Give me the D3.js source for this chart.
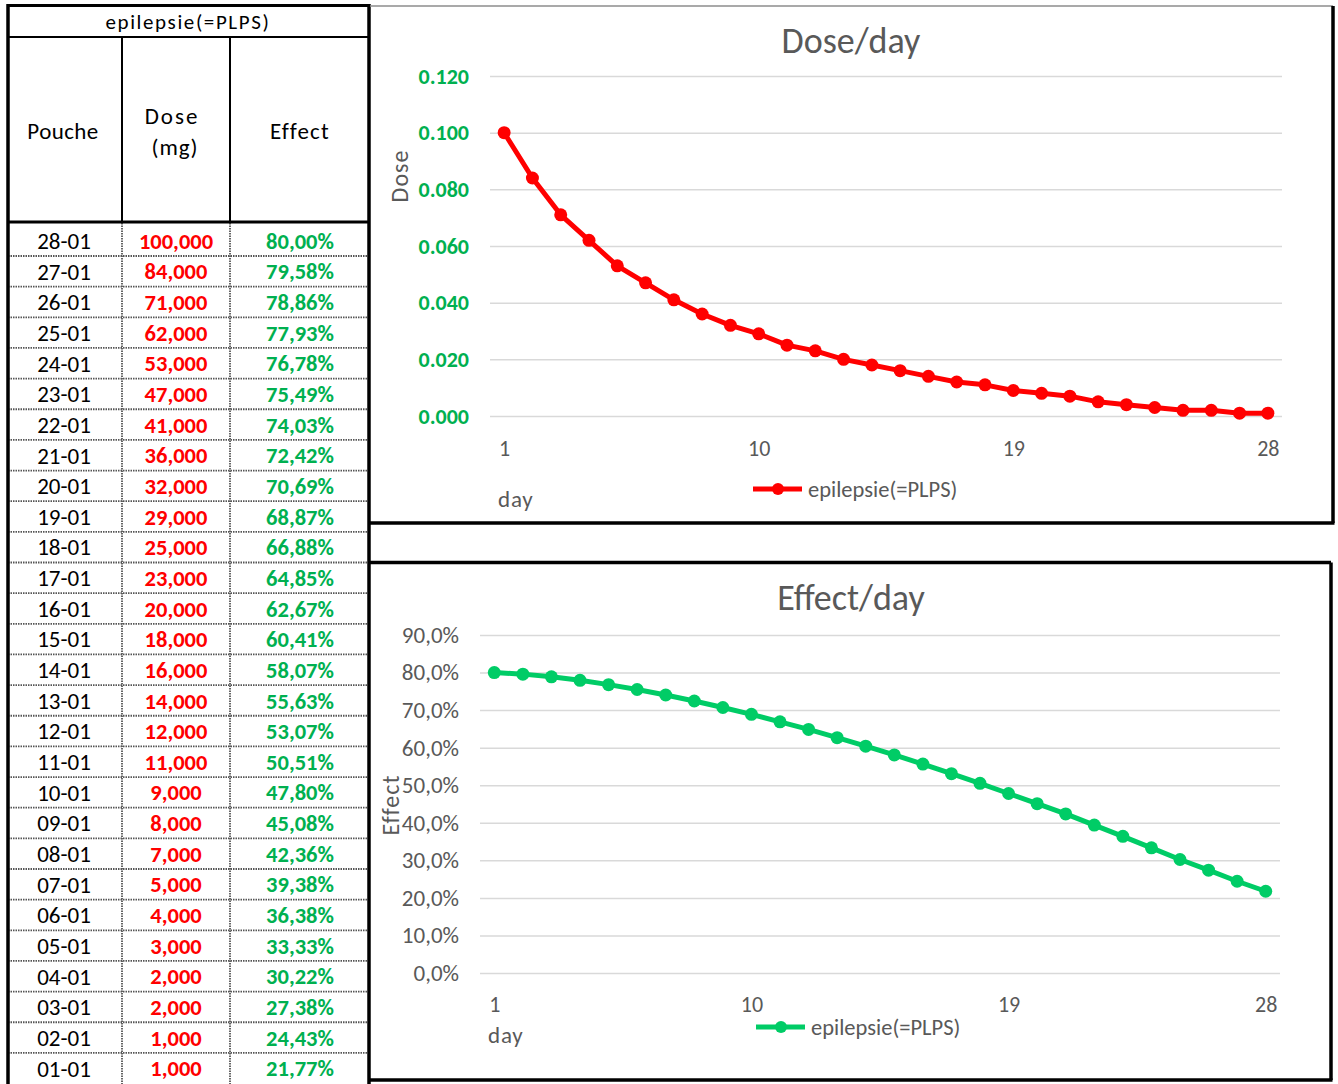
<!DOCTYPE html>
<html>
<head>
<meta charset="utf-8">
<script src="https://cdn.jsdelivr.net/npm/d3@7"></script>
<style>
  body { margin: 0; background: #fff; }
  svg { display: block; font-family: Carlito, Lato, "Open Sans", sans-serif; }
</style>
</head>
<body>
<script>
var width = 1338,
    height = 1084;

// data, day 1 .. day 28
var days = d3.range(1, 29);
var pouche = ['28-01','27-01','26-01','25-01','24-01','23-01','22-01','21-01','20-01','19-01',
              '18-01','17-01','16-01','15-01','14-01','13-01','12-01','11-01','10-01','09-01',
              '08-01','07-01','06-01','05-01','04-01','03-01','02-01','01-01'];
var doseMg = [100000, 84000, 71000, 62000, 53000, 47000, 41000, 36000, 32000, 29000,
              25000, 23000, 20000, 18000, 16000, 14000, 12000, 11000, 9000, 8000,
              7000, 5000, 4000, 3000, 2000, 2000, 1000, 1000];
var effect = [80.00, 79.58, 78.86, 77.93, 76.78, 75.49, 74.03, 72.42, 70.69, 68.87,
              66.88, 64.85, 62.67, 60.41, 58.07, 55.63, 53.07, 50.51, 47.80, 45.08,
              42.36, 39.38, 36.38, 33.33, 30.22, 27.38, 24.43, 21.77];
var doseTicks = [0, 0.02, 0.04, 0.06, 0.08, 0.1, 0.12];
var effectTicks = [0, 0.1, 0.2, 0.3, 0.4, 0.5, 0.6, 0.7, 0.8, 0.9];
var dayTicks = [1, 10, 19, 28];
var seriesName = 'epilepsie(=PLPS)';

var svg = d3.select('body')
    .append('svg')
    .attr('width', width)
    .attr('height', height);

// ---------- table ----------
var tbl = svg.append('g');
var rowTop = 225.35, rowH = 30.65;
var colX = [8, 122, 230, 369];
var colMid = [64, 176, 300];

var fmtDose = function(v) { return d3.format(',.3f')(v / 1000).replace('.', ';').replace(/,/g, '.').replace(';', ','); };
var fmtPct = function(v) { return v.toFixed(2).replace('.', ',') + '%'; };

// dotted grid of the body
for (var i = 1; i < 28; i++) {
  tbl.append('line')
    .attr('x1', colX[0]).attr('x2', colX[3])
    .attr('y1', rowTop + i * rowH).attr('y2', rowTop + i * rowH)
    .attr('stroke', '#555').attr('stroke-width', 1.8).attr('stroke-dasharray', '1.5,1');
}
[1, 2].forEach(function(c) {
  tbl.append('line')
    .attr('x1', colX[c]).attr('x2', colX[c])
    .attr('y1', 223).attr('y2', height)
    .attr('stroke', '#555').attr('stroke-width', 1.8).attr('stroke-dasharray', '1.5,1');
  tbl.append('line')
    .attr('x1', colX[c]).attr('x2', colX[c])
    .attr('y1', 37).attr('y2', 222)
    .attr('stroke', '#000').attr('stroke-width', 2);
});
tbl.append('line').attr('x1', colX[0]).attr('x2', colX[3]).attr('y1', 37).attr('y2', 37)
  .attr('stroke', '#000').attr('stroke-width', 2);
tbl.append('line').attr('x1', colX[0]).attr('x2', colX[3]).attr('y1', 222).attr('y2', 222)
  .attr('stroke', '#000').attr('stroke-width', 3);
tbl.append('line').attr('x1', colX[0]).attr('x2', colX[3]).attr('y1', 5.5).attr('y2', 5.5)
  .attr('stroke', '#000').attr('stroke-width', 3);
tbl.append('line').attr('x1', colX[0]).attr('x2', colX[0]).attr('y1', 4).attr('y2', height)
  .attr('stroke', '#000').attr('stroke-width', 3.5);
tbl.append('line').attr('x1', colX[3]).attr('x2', colX[3]).attr('y1', 4).attr('y2', height)
  .attr('stroke', '#000').attr('stroke-width', 3.5);

tbl.append('text').attr('x', 188).attr('y', 22).attr('dy', '0.35em')
  .attr('text-anchor', 'middle').attr('font-size', 21).attr('letter-spacing', 1.6)
  .text(seriesName);
tbl.append('text').attr('x', 63).attr('y', 131).attr('dy', '0.35em')
  .attr('text-anchor', 'middle').attr('font-size', 23).attr('letter-spacing', 0.4).text('Pouche');
tbl.append('text').attr('x', 172).attr('y', 116).attr('dy', '0.35em')
  .attr('text-anchor', 'middle').attr('font-size', 23).attr('letter-spacing', 2).text('Dose');
tbl.append('text').attr('x', 175).attr('y', 147).attr('dy', '0.35em')
  .attr('text-anchor', 'middle').attr('font-size', 23).attr('letter-spacing', 1).text('(mg)');
tbl.append('text').attr('x', 300).attr('y', 131).attr('dy', '0.35em')
  .attr('text-anchor', 'middle').attr('font-size', 23).attr('letter-spacing', 1.2).text('Effect');

var rows = tbl.selectAll('.row')
  .data(days)
  .enter().append('g')
  .attr('class', 'row')
  .attr('transform', function(d, i) { return 'translate(0,' + (rowTop + i * rowH + rowH / 2) + ')'; });

rows.append('text').attr('x', colMid[0]).attr('dy', '0.36em')
  .attr('text-anchor', 'middle').attr('font-size', 23).attr('fill', '#000')
  .text(function(d, i) { return pouche[i]; });
rows.append('text').attr('x', colMid[1]).attr('dy', '0.36em')
  .attr('text-anchor', 'middle').attr('font-size', 22.5).attr('font-weight', 'bold').attr('fill', '#ff0000')
  .text(function(d, i) { return fmtDose(doseMg[i]); });
rows.append('text').attr('x', colMid[2]).attr('dy', '0.36em')
  .attr('text-anchor', 'middle').attr('font-size', 22.5).attr('font-weight', 'bold').attr('fill', '#00b050')
  .text(function(d, i) { return fmtPct(effect[i]); });

// ---------- chart helper ----------
function drawChart(o) {
  var g = svg.append('g');

  // frame
  g.append('line').attr('x1', 370).attr('x2', o.right).attr('y1', o.top).attr('y2', o.top)
    .attr('stroke', o.topColor).attr('stroke-width', o.topWidth);
  g.append('line').attr('x1', o.right).attr('x2', o.right).attr('y1', o.top).attr('y2', o.bottom)
    .attr('stroke', '#000').attr('stroke-width', 3.5);
  g.append('line').attr('x1', 370).attr('x2', o.right + 1.5).attr('y1', o.bottom).attr('y2', o.bottom)
    .attr('stroke', '#000').attr('stroke-width', 3.5);

  var x = d3.scalePoint().domain(days).range([o.x0, o.x1]).padding(0.5);
  var y = d3.scaleLinear().domain(o.yDomain).range([o.y0, o.y1]);

  var yAxis = g.append('g')
    .attr('transform', 'translate(' + o.x0 + ',0)')
    .call(d3.axisLeft(y).tickValues(o.yTicks).tickFormat(o.yFormat)
      .tickSize(-(o.x1 - o.x0)).tickPadding(21));
  yAxis.select('.domain').remove();
  yAxis.selectAll('line').attr('stroke', '#d9d9d9').attr('stroke-width', 1.5);
  yAxis.selectAll('text')
    .attr('font-family', 'Carlito, Lato, "Open Sans", sans-serif')
    .attr('font-size', o.yFontSize)
    .attr('font-weight', o.yWeight)
    .attr('fill', o.yColor);

  var xAxis = g.append('g')
    .attr('transform', 'translate(0,' + o.y0 + ')')
    .call(d3.axisBottom(x).tickValues(dayTicks).tickSize(0).tickPadding(o.xPad));
  xAxis.select('.domain').remove();
  xAxis.selectAll('text')
    .attr('font-family', 'Carlito, Lato, "Open Sans", sans-serif')
    .attr('font-size', 22).attr('fill', '#595959');

  g.append('text').attr('x', 851).attr('y', o.titleY).attr('dy', '0.35em')
    .attr('text-anchor', 'middle').attr('font-size', 36).attr('fill', '#595959')
    .text(o.title);

  g.append('text').attr('x', o.dayX).attr('y', o.dayY).attr('dy', '0.35em')
    .attr('font-size', 23).attr('fill', '#595959').attr('letter-spacing', 0.8).text('day');

  g.append('text')
    .attr('transform', 'translate(' + o.yTitleX + ',' + o.yTitleY + ') rotate(-90)')
    .attr('dy', '0.35em').attr('text-anchor', 'middle')
    .attr('font-size', 24).attr('fill', '#595959').attr('letter-spacing', 1).text(o.yTitle);

  var line = d3.line()
    .x(function(d) { return x(d); })
    .y(function(d, i) { return y(o.values[i]); });

  g.append('path').datum(days)
    .attr('d', line).attr('fill', 'none')
    .attr('stroke', o.color).attr('stroke-width', 5).attr('stroke-linejoin', 'round');

  g.selectAll('.pt').data(days).enter().append('circle')
    .attr('cx', function(d) { return x(d); })
    .attr('cy', function(d, i) { return y(o.values[i]); })
    .attr('r', 6.5).attr('fill', o.color);

  // legend
  g.append('line').attr('x1', o.legX).attr('x2', o.legX + 49).attr('y1', o.legY).attr('y2', o.legY)
    .attr('stroke', o.color).attr('stroke-width', 5);
  g.append('circle').attr('cx', o.legX + 25).attr('cy', o.legY).attr('r', 6).attr('fill', o.color);
  g.append('text').attr('x', o.legX + 55).attr('y', o.legY).attr('dy', '0.35em')
    .attr('font-size', 22.5).attr('fill', '#595959').text(seriesName);
}

drawChart({
  top: 6, bottom: 523, right: 1333, topColor: '#8c8c8c', topWidth: 1.5,
  x0: 490, x1: 1282, y0: 416, y1: 76,
  yDomain: [0, 0.12], yTicks: doseTicks, yFormat: d3.format('.3f'),
  yFontSize: 22, yWeight: 'bold', yColor: '#00b050', xPad: 24,
  title: 'Dose/day', titleY: 40, dayX: 498, dayY: 499,
  yTitle: 'Dose', yTitleX: 400, yTitleY: 176,
  values: doseMg.map(function(v) { return v / 1e6; }),
  color: '#ff0000', legX: 753, legY: 489
});

drawChart({
  top: 562.5, bottom: 1080, right: 1331, topColor: '#000', topWidth: 3.5,
  x0: 480, x1: 1280, y0: 973, y1: 635,
  yDomain: [0, 0.9], yTicks: effectTicks,
  yFormat: function(v) { return (v * 100).toFixed(1).replace('.', ',') + '%'; },
  yFontSize: 23, yWeight: 'normal', yColor: '#595959', xPad: 23,
  title: 'Effect/day', titleY: 597, dayX: 488, dayY: 1035,
  yTitle: 'Effect', yTitleX: 391, yTitleY: 805,
  values: effect.map(function(v) { return v / 100; }),
  color: '#00cc66', legX: 756, legY: 1027
});
</script>
</body>
</html>
